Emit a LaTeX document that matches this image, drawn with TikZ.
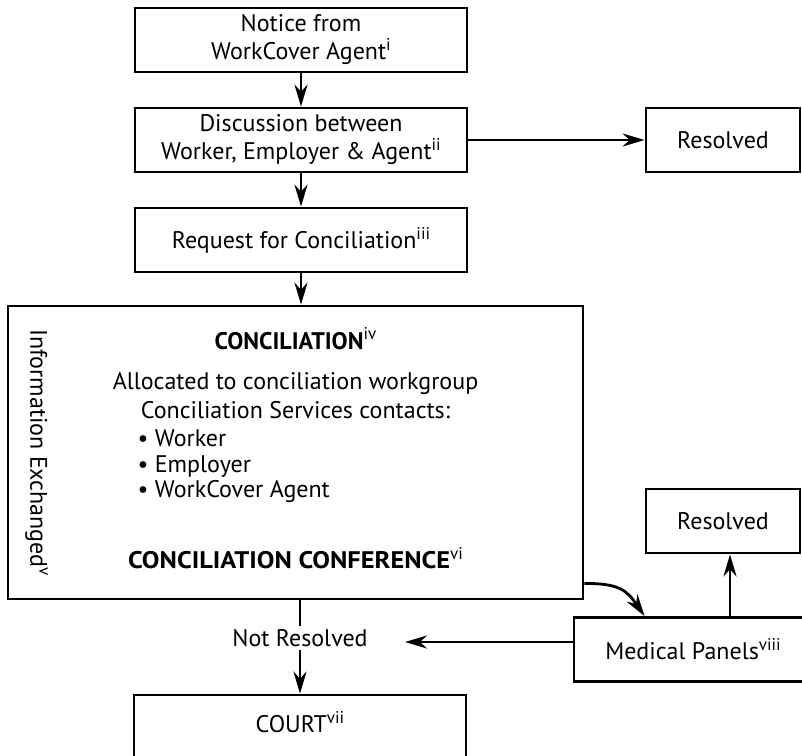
\documentclass[tikz,border=0pt]{standalone}
\usepackage{fontspec}
\setmainfont{PT Sans}
\usepackage{tikz}
\usetikzlibrary{arrows.meta}
\newcommand{\noteref}[1]{\raisebox{0.38em}{\fontsize{17}{17}\selectfont #1}}
\tikzstyle{block} = [draw, rectangle, line width=2.8pt, align=center,
    minimum height=64pt, minimum width=332pt]
\tikzstyle{side} = [block, minimum width=154pt]
\tikzstyle{flow} = [draw, ->, line width=2.8pt]

\begin{document}
\begin{tikzpicture}[x=1pt, y=-1pt, node distance=100pt,
    >={Stealth[length=22pt, width=13pt]},
    font=\fontsize{24}{28}\selectfont]
    \useasboundingbox (0,0) rectangle (802,755);
    \clip (0,0) rectangle (802,755);

    % Upper part
    \node [block] (notice) at (301,40) {Notice from\\WorkCover Agent\noteref{i}};
    \node [block, below of=notice] (disc) {Discussion between\\Worker, Employer \& Agent\noteref{ii}};
    \node [side, right of=disc, node distance=422pt] (res1) {Resolved};
    \node [block, below of=disc] (request) {Request for Conciliation\noteref{iii}};

    % Conciliation box and its texts
    \node [block, minimum width=575pt, minimum height=293pt] (concil) at (295.5,452.5) {};
    \node (ctitle) at ([yshift=-34pt]concil.north) {\textbf{CONCILIATION}\noteref{iv}};
    \node (calloc) at ([yshift=-79pt]concil.north) {Allocated to conciliation workgroup};
    \node (ccont) at ([yshift=-105pt]concil.north) {Conciliation Services contacts:};
    \node [anchor=north west, align=left, inner sep=0pt,
        font=\fontsize{24}{25.5}\selectfont] (clist)
        at ([yshift=-8pt]ccont.south west) {\textbullet\ Worker\\\textbullet\ Employer\\\textbullet\ WorkCover Agent};
    \node (cconf) at ([yshift=42pt]concil.south) {\scalebox{1.1}[1]{\textbf{CONCILIATION CONFERENCE}}\noteref{vi}};
    \node [rotate=-90] (cinfo) at ([xshift=30pt]concil.west) {Information Exchanged\noteref{v}};

    % Right hand side and court (court runs off the page)
    \node [side] (res2) at (723,521) {Resolved};
    \node [block, minimum width=238pt] (medical) at (693,649.5) {Medical Panels\noteref{viii}};
    \node [block, minimum height=70pt, text depth=16pt] (court) at (300,730) {COURT\noteref{vii}};

    % Free ends
    \coordinate (mpin) at (405,642);
    \coordinate (mpup) at (730,0);

    % Connections
    \draw [flow] (notice) -- (disc);
    \draw [flow] (disc) -- (res1);
    \draw [flow] (disc) -- (request);
    \draw [flow] (request) -- (request |- concil.north);
    \draw [flow] (concil.south -| court) -- node [fill=white, pos=0.4] {Not Resolved} (court);
    \draw [flow] (medical.west |- mpin) -- (mpin);
    \draw [flow] (medical.north -| mpup) -- (res2.south -| mpup);
    \draw [flow] ([yshift=17pt]concil.south east) .. controls +(35,0) and +(-18,-26) .. ([xshift=72pt]medical.north west);
\end{tikzpicture}
\end{document}
